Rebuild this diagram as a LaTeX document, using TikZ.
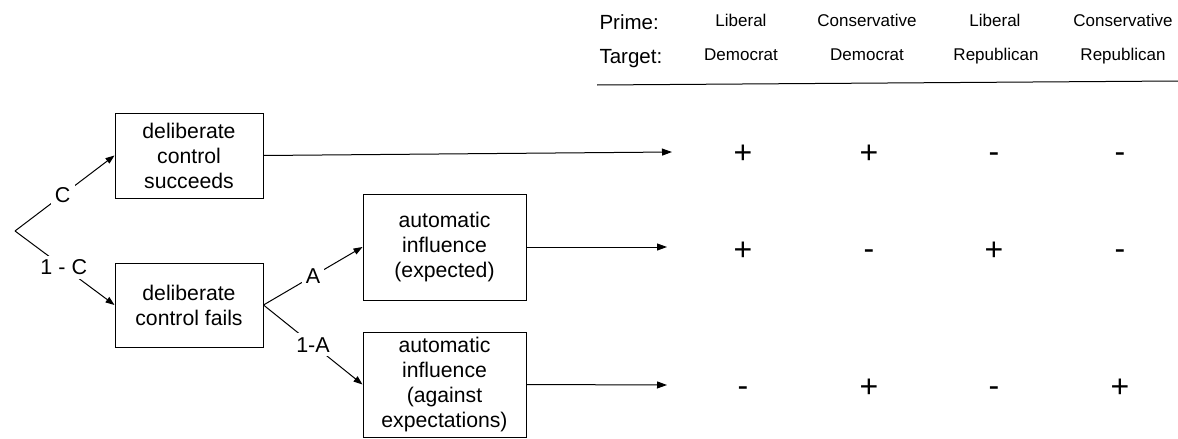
\documentclass[tikz,border=0pt]{standalone}
\usepackage{fontspec}
\setmainfont{Liberation Sans}
\usetikzlibrary{arrows.meta}
\begin{document}
\begin{tikzpicture}[x=1pt,y=-1pt,
  stage/.style={draw, line width=1pt, align=center, inner sep=0pt,
    font=\fontsize{21.2}{25}\selectfont},
  branch/.style={font=\fontsize{21.5}{24}\selectfont, fill=white, inner sep=4pt},
  flow/.style={line width=1pt, -{Triangle[length=10pt,width=7pt]}},
  fork/.style={line width=1pt, -{Triangle[length=9pt,width=6.5pt]}},
  colhead/.style={font=\fontsize{17}{20}\selectfont, anchor=base},
  rowhead/.style={font=\fontsize{20.5}{24}\selectfont, anchor=base west},
  sign/.style={font=\fontsize{32}{36}\selectfont, inner sep=0pt, anchor=base},
  plus/.style={sign, yshift=-11.3pt},
  minus/.style={sign, yshift=-11.8pt}
]
\useasboundingbox (0,0) rectangle (1178,439);

% header of the outcome table
\node[rowhead] (prime)  at (596,29) {Prime:};
\node[rowhead] (target) at (596,63) {Target:};
\node[colhead] (p1) at (741,26)  {Liberal};
\node[colhead] (p2) at (867,26)  {Conservative};
\node[colhead] (p3) at (995,26)  {Liberal};
\node[colhead] (p4) at (1123,26) {Conservative};
\node[colhead] (t1) at (741,60)  {Democrat};
\node[colhead] (t2) at (867,60)  {Democrat};
\node[colhead] (t3) at (996,60)  {Republican};
\node[colhead] (t4) at (1123,60) {Republican};
\coordinate (ruleL) at (597,85);
\coordinate (ruleR) at (1178,81);
\draw[line width=1pt] (ruleL) -- (ruleR);

% processing stages
\node[stage, minimum width=148pt, minimum height=85pt] (succ) at (189,155.5)
  {deliberate\\control\\succeeds};
\node[stage, minimum width=148pt, minimum height=84pt] (fail) at (189,305)
  {deliberate\\control fails};
\node[stage, minimum width=163pt, minimum height=106pt] (expt) at (444.5,247)
  {automatic\\influence\\(expected)};
\node[stage, minimum width=163pt, minimum height=105pt] (agst) at (444.5,384.5)
  {automatic\\influence\\(against\\expectations)};

% branching probabilities
\coordinate (root) at (15,231);
\draw[fork] (root) -- node[branch, pos=0.48] (lc) {C} (succ.west);
\draw[fork] (root) -- node[branch, pos=0.49] (lnc) {1 - C} (fail.west);
\draw[fork] (fail.east) -- node[branch, pos=0.5] (la) {A} (expt.west);
\draw[fork] (fail.east) -- node[branch, pos=0.5] (lna) {1-A} (agst.west);

% outcome arrows
\coordinate (e1) at (672,152);
\coordinate (e2) at (667,247);
\coordinate (e3) at (667,385);
\draw[flow] (succ.east) -- (e1);
\draw[flow] (expt.east) -- (e2);
\draw[flow] (agst.east) -- (e3);

% predicted signs
\node[plus]  (s11) at (743,152) {+};
\node[plus]  (s12) at (869,152) {+};
\node[minus] (s13) at (994,151) {-};
\node[minus] (s14) at (1120,151) {-};
\node[plus]  (s21) at (743,249) {+};
\node[minus] (s22) at (869,248) {-};
\node[plus]  (s23) at (994,249) {+};
\node[minus] (s24) at (1120,248) {-};
\node[minus] (s31) at (743,385) {-};
\node[plus]  (s32) at (869,386) {+};
\node[minus] (s33) at (994,385) {-};
\node[plus]  (s34) at (1120,386) {+};
\end{tikzpicture}
\end{document}
